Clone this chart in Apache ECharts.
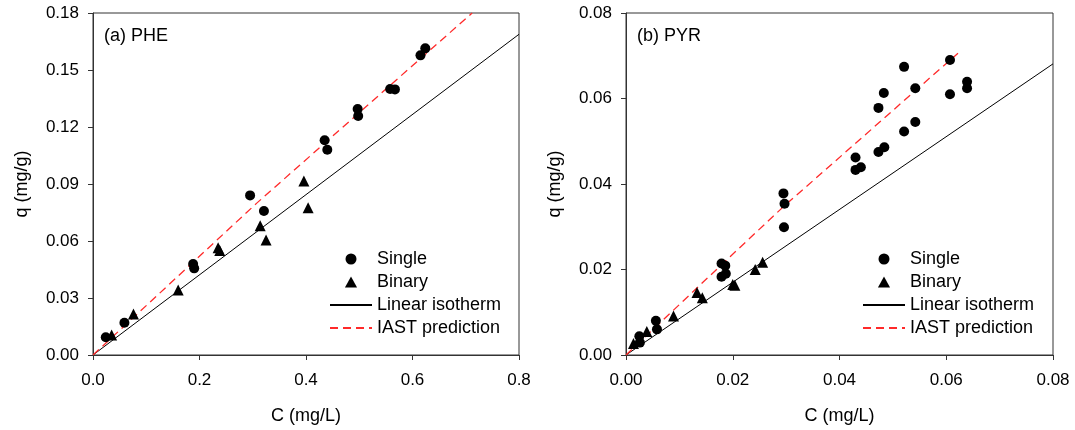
<!DOCTYPE html>
<html>
<head>
<meta charset="utf-8">
<script src="https://cdn.jsdelivr.net/npm/echarts@6/dist/echarts.min.js"></script>
<style>html,body{margin:0;padding:0;background:#fff}#c{width:1075px;height:430px}</style>
</head>
<body>
<div id="c"></div>
<script>
// ---- Data ----
const pheSingleC = [0.024,0.059,0.188,0.190,0.295,0.321,0.435,0.440,0.497,0.498,0.558,0.567,0.615,0.624];
const pheSingleQ = [0.0093,0.0170,0.0479,0.0456,0.0840,0.0758,0.1130,0.1080,0.1295,0.1258,0.1400,0.1398,0.1577,0.1614];
const pheBinaryC = [0.035,0.076,0.160,0.235,0.238,0.314,0.325,0.396,0.404];
const pheBinaryQ = [0.0105,0.0216,0.0342,0.0565,0.0550,0.0680,0.0605,0.0916,0.0775];
const pheLinearC = [0,0.8];
const pheLinearQ = [0,0.1688];
const pheIastC = [0,0.307,0.712];
const pheIastQ = [0,0.0798,0.18];

const pyrSingleC = [0.0025,0.0026,0.0056,0.0058,0.0179,0.0186,0.0179,0.0187,0.0295,0.0297,0.0296,0.0430,0.0430,0.0440,0.0473,0.0483,0.0473,0.0484,0.0521,0.0521,0.0542,0.0542,0.0607,0.0607,0.0639,0.0639];
const pyrSingleQ = [0.0044,0.0029,0.0080,0.0060,0.0214,0.0209,0.0183,0.0190,0.0378,0.0354,0.0299,0.0462,0.0433,0.0439,0.0578,0.0613,0.0475,0.0486,0.0674,0.0523,0.0624,0.0545,0.0690,0.0610,0.0639,0.0624];
const pyrBinaryC = [0.0014,0.0039,0.0089,0.0133,0.0143,0.0200,0.0204,0.0242,0.0256];
const pyrBinaryQ = [0.0027,0.0055,0.0091,0.0146,0.0134,0.0165,0.0163,0.0200,0.0217];
const pyrLinearC = [0,0.08];
const pyrLinearQ = [0,0.0681];
const pyrIastC = [0,0.0195,0.0295,0.0622];
const pyrIastQ = [0,0.0230,0.0347,0.0706];

const panelLabels = ['(a) PHE','(b) PYR'];
const legendNames = ['Single','Binary','Linear isotherm','IAST prediction'];
const xName = 'C (mg/L)';
const yName = 'q (mg/g)';

// ---- helpers ----
const zip = (a,b) => a.map((v,i)=>[v,b[i]]);
const FONT = 'Liberation Sans, Arial, Helvetica, sans-serif';
const AX = '#333';
const RED = '#ff2a2a';
const TRI = 'path://M0,10L5.5,0L11,10Z';

function xAxis(gi, max, interval, dec){
  return {
    type:'value', gridIndex:gi, min:0, max:max, interval:interval,
    name:xName, nameLocation:'middle', nameGap:52,
    nameTextStyle:{fontFamily:FONT, fontSize:18, color:'#000'},
    axisLine:{show:true, lineStyle:{color:AX, width:1}},
    axisTick:{show:true, inside:false, length:5, lineStyle:{color:AX}},
    axisLabel:{fontFamily:FONT, fontSize:17, color:'#000', margin:17,
      formatter:v=>v.toFixed(dec)},
    splitLine:{show:false}
  };
}
function yAxis(gi, max, interval){
  return {
    type:'value', gridIndex:gi, min:0, max:max, interval:interval,
    name:yName, nameLocation:'middle', nameGap:62, nameRotate:90,
    nameTextStyle:{fontFamily:FONT, fontSize:18, color:'#000'},
    axisLine:{show:true, lineStyle:{color:AX, width:1}},
    axisTick:{show:true, inside:false, length:5, lineStyle:{color:AX}},
    axisLabel:{fontFamily:FONT, fontSize:17, color:'#000', margin:14,
      formatter:v=>v.toFixed(2)},
    splitLine:{show:false}
  };
}
function legend(left){
  return {
    orient:'vertical', left:left, top:245,
    itemWidth:42, itemHeight:11, itemGap:5,
    symbolKeepAspect:true,
    data:[
      {name:legendNames[0], icon:'circle'},
      {name:legendNames[1], icon:TRI},
      {name:legendNames[2], itemStyle:{opacity:0}},
      {name:legendNames[3], itemStyle:{opacity:0}}
    ],
    selectedMode:false,
    textStyle:{fontFamily:FONT, fontSize:18, color:'#000', lineHeight:18}
  };
}
function seriesFor(gi, sC, sQ, bC, bQ, lC, lQ, iC, iQ){
  return [
    {name:'Linear isotherm', type:'line', xAxisIndex:gi, yAxisIndex:gi, data:zip(lC,lQ),
     symbol:'none', lineStyle:{color:'#000', width:1}, itemStyle:{color:'#000'}, z:2, silent:true},
    {name:'IAST prediction', type:'line', xAxisIndex:gi, yAxisIndex:gi, data:zip(iC,iQ),
     symbol:'none', lineStyle:{color:RED, width:1.3, type:[8,5]}, itemStyle:{color:RED}, z:2, silent:true},
    {name:'Single', type:'scatter', xAxisIndex:gi, yAxisIndex:gi, data:zip(sC,sQ),
     symbol:'circle', symbolSize:10, itemStyle:{color:'#000', opacity:1}, z:3},
    {name:'Binary', type:'scatter', xAxisIndex:gi, yAxisIndex:gi, data:zip(bC,bQ),
     symbol:'triangle', symbolSize:11, itemStyle:{color:'#000', opacity:1}, z:3}
  ];
}

const chart = echarts.init(document.getElementById('c'), null, {renderer:'canvas'});
chart.setOption({
  animation:false,
  backgroundColor:'#fff',
  title:[
    {text:panelLabels[0], left:104, top:27, textStyle:{fontFamily:FONT, fontSize:18, fontWeight:'normal', color:'#000'}, padding:0},
    {text:panelLabels[1], left:637, top:27, textStyle:{fontFamily:FONT, fontSize:18, fontWeight:'normal', color:'#000'}, padding:0}
  ],
  grid:[
    {left:93, right:556, top:13, bottom:75, show:true, borderColor:AX, borderWidth:1, backgroundColor:'transparent'},
    {left:626, right:22, top:13, bottom:75, show:true, borderColor:AX, borderWidth:1, backgroundColor:'transparent'}
  ],
  xAxis:[xAxis(0,0.8,0.2,1), xAxis(1,0.08,0.02,2)],
  yAxis:[yAxis(0,0.18,0.03), yAxis(1,0.08,0.02)],
  legend:[legend(324), legend(857)],
  series:[].concat(
    seriesFor(0, pheSingleC, pheSingleQ, pheBinaryC, pheBinaryQ, pheLinearC, pheLinearQ, pheIastC, pheIastQ),
    seriesFor(1, pyrSingleC, pyrSingleQ, pyrBinaryC, pyrBinaryQ, pyrLinearC, pyrLinearQ, pyrIastC, pyrIastQ)
  )
});
</script>
</body>
</html>
